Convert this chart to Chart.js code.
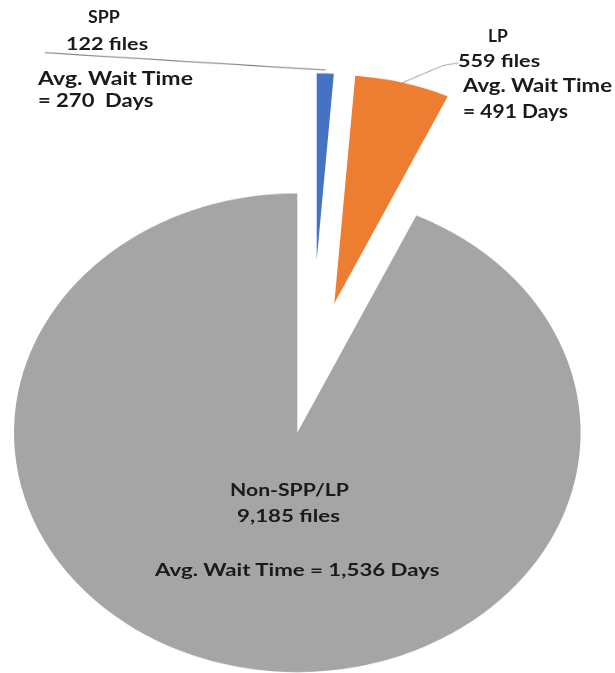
<!DOCTYPE html>
<html>
<head>
<meta charset="utf-8">
<script src="https://cdn.jsdelivr.net/npm/chart.js@4.4.1/dist/chart.umd.min.js"></script>
<style>
  html, body { margin: 0; padding: 0; background: #fff; overflow: hidden; }
  body { width: 615px; height: 673px; position: relative; }
  /* the source picture is squashed vertically, so the whole stage is too */
  #stage { position: absolute; left: 0; top: 0; width: 615px; height: 797px; transform: scaleY(0.845); transform-origin: 0 0; }
  #stage canvas { position: absolute; left: 0; top: 0; }
  .lbl { position: absolute; font-family: Lato, sans-serif; font-weight: 700; color: #1a1a1a; white-space: pre; line-height: 1; transform-origin: 0 0; }
</style>
</head>
<body>
<div id="stage">
  <canvas id="greyPie" width="615" height="797"></canvas>
  <canvas id="lpPie" width="615" height="797"></canvas>
  <canvas id="sppPie" width="615" height="797"></canvas>
</div>
<script>
const categories = ['SPP', 'LP', 'Non-SPP/LP'];
const fileCounts = [122, 559, 9185];
const avgWaitDays = [270, 491, 1536];
const sliceColors = ['#4472C4', '#ED7D31', '#A5A5A5'];

const SQ = 0.845;
const W = 615, H = 797;
const fmt = v => v.toLocaleString('en-US');

// leader line: label-side points (picture coords) -> slice edge
const leaderPlugin = {
  id: 'leader',
  afterDatasetsDraw(chart, args, opts) {
    const arc = chart.getDatasetMeta(0).data[opts.index];
    const p = arc.getProps(['x', 'y', 'startAngle', 'endAngle', 'outerRadius'], true);
    const mid = (p.startAngle + p.endAngle) / 2;
    const ex = p.x + Math.cos(mid) * (p.outerRadius + opts.gap);
    const ey = p.y + Math.sin(mid) * (p.outerRadius + opts.gap);
    const ctx = chart.ctx;
    ctx.save();
    ctx.strokeStyle = opts.color;
    ctx.lineWidth = 1.2;
    ctx.beginPath();
    opts.points.forEach((pt, i) => {
      if (i === 0) ctx.moveTo(pt[0], pt[1] / SQ);
      else ctx.lineTo(pt[0], pt[1] / SQ);
    });
    ctx.lineTo(ex, ey);
    ctx.stroke();
    ctx.restore();
  }
};

function makePie(id, sliceIndex, cx, cy, r, leader) {
  const colors = sliceColors.map((c, i) => i === sliceIndex ? c : 'rgba(0,0,0,0)');
  return new Chart(document.getElementById(id), {
    type: 'pie',
    data: {
      labels: categories,
      datasets: [{
        data: fileCounts,
        backgroundColor: colors,
        borderWidth: 0,
        radius: r,
        clip: false
      }]
    },
    options: {
      responsive: false,
      animation: false,
      events: [],
      layout: {
        padding: {
          left: Math.max(0, 2 * cx - W),
          right: Math.max(0, W - 2 * cx),
          top: Math.max(0, 2 * cy - H),
          bottom: Math.max(0, H - 2 * cy)
        }
      },
      plugins: {
        legend: { display: false },
        tooltip: { enabled: false },
        leader: leader || false
      }
    },
    plugins: leader ? [leaderPlugin] : []
  });
}

makePie('greyPie', 2, 297.3, 512.1, 283.3);
makePie('lpPie', 1, 334.3, 358.9, 270, { index: 1, gap: 0, color: '#a6a6a6', points: [[458, 63], [443, 65.5]] });
makePie('sppPie', 0, 316.7, 307.7, 221, { index: 0, gap: 4, color: '#7f7f7f', points: [[45, 52.7]] });

// text lines: left x, baseline (picture coords), font size, width to stretch to
const stage = document.getElementById('stage');
const placed = [];
function place(text, x, baseline, size, width) {
  const d = document.createElement('div');
  d.className = 'lbl';
  d.textContent = text;
  d.style.fontSize = size + 'px';
  d.style.left = x + 'px';
  d.style.top = (baseline / SQ - size * 0.887) + 'px';
  stage.appendChild(d);
  placed.push([d, width]);
}

place(categories[0], 88, 23, 20, 32);
place(fmt(fileCounts[0]) + ' files', 66, 50, 20, 82);
place('Avg. Wait Time', 38, 86, 22, 155);
place('= ' + fmt(avgWaitDays[0]) + '  Days', 38, 108, 22, 115);

place(categories[1], 488, 41.7, 20, 20);
place(fmt(fileCounts[1]) + ' files', 458, 66.7, 20, 82);
place('Avg. Wait Time', 463, 92.7, 22, 149);
place('= ' + fmt(avgWaitDays[1]) + ' Days', 463, 119, 22, 105);

place(categories[2], 230, 496, 21, 119);
place(fmt(fileCounts[2]) + ' files', 237, 521.7, 21, 103);
place('Avg. Wait Time = ' + fmt(avgWaitDays[2]) + ' Days', 155, 576, 21, 285);

function fitText() {
  placed.forEach(([d, width]) => {
    d.style.transform = 'scaleX(' + (width / d.offsetWidth) + ')';
  });
}
fitText();
if (document.fonts) document.fonts.ready.then(fitText);
</script>
</body>
</html>
